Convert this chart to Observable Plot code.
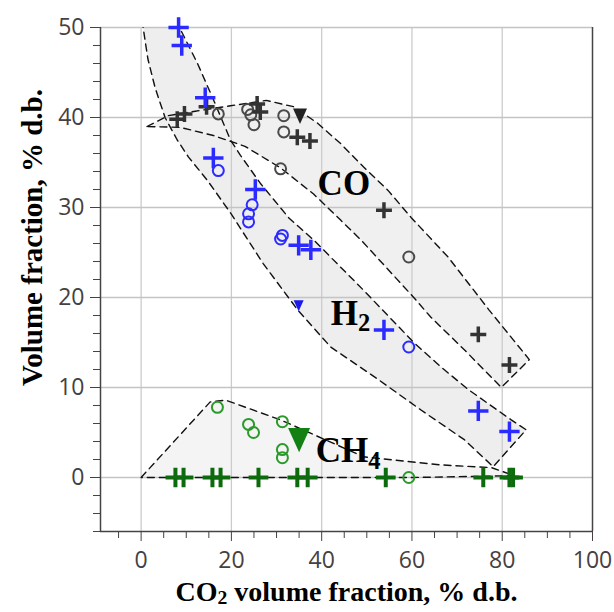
<!DOCTYPE html>
<html>
<head>
<meta charset="utf-8">
<script src="https://cdn.jsdelivr.net/npm/d3@7"></script>
<script src="https://cdn.jsdelivr.net/npm/@observablehq/plot@0.6"></script>
<style>
  html, body { margin: 0; padding: 0; background: #fff; }
  #chart { width: 614px; height: 612px; }
</style>
</head>
<body>
<div id="chart"></div>
<script>
// ---- Data ----
// H2 (blue)
const h2PlusX = [8.3, 9.0, 14.2, 16.0, 25.3, 34.9, 37.6, 53.8, 74.7, 81.6];
const h2PlusY = [50.0, 48.0, 42.2, 35.5, 32.0, 25.8, 25.3, 16.4, 7.4, 5.1];
const h2CircX = [17.1, 24.6, 23.8, 23.8, 31.3, 30.9, 59.3];
const h2CircY = [34.1, 30.3, 29.3, 28.4, 26.9, 26.5, 14.5];
const h2TriX = [34.9];
const h2TriY = [19.2];
// CO (dark grey)
const coPlusX = [8.0, 9.6, 14.5, 25.7, 26.4, 34.6, 37.4, 53.8, 74.7, 81.6];
const coPlusY = [39.8, 40.4, 41.2, 41.5, 40.6, 37.8, 37.4, 29.7, 15.9, 12.5];
const coCircX = [17.1, 23.6, 24.3, 25.0, 31.6, 31.6, 30.9, 59.3];
const coCircY = [40.4, 40.9, 40.3, 39.2, 40.2, 38.4, 34.3, 24.5];
const coTriX = [35.2];
const coTriY = [40.3];
// CH4 (green)
const ch4PlusX = [7.6, 9.4, 15.8, 17.6, 26.0, 34.6, 36.9, 54.2, 75.8, 81.6, 82.4];
const ch4PlusY = [0, 0, 0, 0, 0, 0, 0, 0, 0, 0, 0];
const ch4CircX = [16.9, 23.8, 24.9, 31.3, 31.3, 31.3, 59.3];
const ch4CircY = [7.8, 5.9, 5.0, 6.2, 3.1, 2.2, 0.0];
const ch4TriX = [35.0];
const ch4TriY = [4.4];

// Envelopes (dashed regions)
const h2EnvX = [0.2, 1.5, 3.1, 5.3, 8.0, 10.5, 14.7, 19.8, 27.0, 34.7, 42.0, 52.5, 62.0, 71.6, 78.0, 85.3, 82.0, 72.4, 66.4, 60.4, 49.3, 38.2, 32.8, 26.4, 22.0, 19.8, 16.0, 12.5, 9.0, 7.0];
const h2EnvY = [50.8, 46.5, 43.3, 40.0, 37.5, 35.6, 33.0, 29.4, 23.8, 18.6, 14.5, 10.9, 7.5, 4.2, 1.2, 5.3, 6.4, 9.8, 12.3, 15.0, 20.8, 26.4, 28.8, 32.7, 35.8, 37.5, 42.0, 46.0, 49.5, 50.8];
const coEnvX = [1.3, 6.0, 12.0, 19.8, 27.7, 33.8, 39.0, 44.2, 49.3, 54.7, 59.8, 68.0, 77.1, 86.0, 79.8, 71.6, 64.2, 60.4, 48.7, 44.2, 38.2, 30.9, 23.0, 16.0, 8.7];
const coEnvY = [39.0, 40.2, 40.7, 41.3, 41.9, 41.2, 39.4, 37.1, 34.5, 31.9, 28.9, 24.5, 18.6, 13.1, 10.0, 14.2, 17.8, 20.0, 26.4, 28.6, 31.5, 34.4, 36.8, 38.0, 38.9];
const ch4EnvX = [0, 15.3, 18.7, 30.9, 49.3, 66.4, 77.6, 82.7, 60.0, 30.0];
const ch4EnvY = [0, 8.4, 8.6, 6.4, 2.3, 1.4, 1.1, 0.2, 0, 0];

// Axis ticks
const xMajor = [0, 20, 40, 60, 80, 100];
const xMinor = [-5, 5, 10, 15, 25, 30, 35, 45, 50, 55, 65, 70, 75, 85, 90, 95];
const yMajor = [0, 10, 20, 30, 40, 50];
const yMinor = [-6, -4, -2, 2, 4, 6, 8, 12, 14, 16, 18, 22, 24, 26, 28, 32, 34, 36, 38, 42, 44, 46, 48];
const xGrid = [0, 20, 40, 60, 80];

// Labels
const labelText = ["CO", "H₂", "CH₄"];
const labelX = [39.1, 42.0, 38.7];
const labelY = [31.4, 17.0, 1.7];
const xTitle = "CO₂ volume fraction, % d.b.";
const yTitle = "Volume fraction, % d.b.";

// ---- Build tables ----
const pts = (xs, ys) => xs.map((x, i) => ({x, y: ys[i]}));
const labels = labelText.map((t, i) => ({t, x: labelX[i], y: labelY[i]}));

// Down-pointing triangle symbol
const triDown = {
  draw(ctx, size) {
    const r = Math.sqrt(size / Math.PI);
    ctx.moveTo(-r, -r * 0.9);
    ctx.lineTo(r, -r * 0.9);
    ctx.lineTo(0, r * 1.3);
    ctx.closePath();
  }
};

const BLUE = "#2b2bff";
const DARK = "#333333";
const GREEN_P = "#0d6b0d";
const GREEN_C = "#2a9a2a";
const serif = "'Liberation Serif', 'Times New Roman', serif";
const sans = "'Open Sans', 'Noto Sans', sans-serif";
const dash = "7,5";

const chart = Plot.plot({
  width: 614,
  height: 612,
  marginLeft: 100,
  marginRight: 22,
  marginTop: 27,
  marginBottom: 81,
  x: {domain: [-9, 100], label: null},
  y: {domain: [-6, 50], label: null},
  marks: [
    // envelope fills
    Plot.line(pts(h2EnvX, h2EnvY), {x: "x", y: "y", curve: "linear-closed", fill: "#eeeeee", stroke: "none", clip: true}),
    Plot.line(pts(coEnvX, coEnvY), {x: "x", y: "y", curve: "linear-closed", fill: "#f0f0f0", stroke: "none", clip: true}),
    Plot.line(pts(ch4EnvX, ch4EnvY), {x: "x", y: "y", curve: "linear-closed", fill: "#f4f4f4", stroke: "none", clip: true}),
    // grid
    Plot.gridX(xGrid, {stroke: "#cccccc", strokeOpacity: 1, strokeWidth: 1.3}),
    Plot.gridY(yMajor, {stroke: "#c4c4c4", strokeOpacity: 1, strokeWidth: 1.3}),
    // frame (left, right, bottom)
    Plot.ruleX([-9, 100], {stroke: "#444", strokeWidth: 1.5}),
    Plot.ruleY([-6], {stroke: "#444", strokeWidth: 1.5}),
    // axes
    Plot.axisX(xMajor, {tickSize: 10, tickPadding: 10, fontSize: 23, fontFamily: sans, color: "#474040", label: null}),
    Plot.axisX(xMinor, {tickSize: 7, tickFormat: () => "", color: "#444", label: null}),
    Plot.axisY(yMajor, {tickSize: 10, tickPadding: 6, fontSize: 23, fontFamily: sans, color: "#474040", label: null}),
    Plot.axisY(yMinor, {tickSize: 7, tickFormat: () => "", color: "#444", label: null}),
    // envelope outlines
    Plot.line(pts(h2EnvX, h2EnvY), {x: "x", y: "y", curve: "linear-closed", stroke: "#111", strokeWidth: 1.4, strokeDasharray: dash, clip: true}),
    Plot.line(pts(coEnvX, coEnvY), {x: "x", y: "y", curve: "linear-closed", stroke: "#111", strokeWidth: 1.4, strokeDasharray: dash, clip: true}),
    Plot.line(pts(ch4EnvX, ch4EnvY), {x: "x", y: "y", curve: "linear-closed", stroke: "#111", strokeWidth: 1.4, strokeDasharray: dash, clip: true}),
    // CO points
    Plot.dot(pts(coCircX, coCircY), {x: "x", y: "y", symbol: "circle", r: 5.5, stroke: "#4a4a4a", strokeWidth: 2, fill: "none"}),
    Plot.dot(pts(coPlusX, coPlusY), {x: "x", y: "y", symbol: "plus", r: 5.2, stroke: DARK, strokeWidth: 3.5}),
    Plot.dot(pts(coTriX, coTriY), {x: "x", y: "y", symbol: triDown, r: 7, fill: "#222", stroke: "none"}),
    // H2 points
    Plot.dot(pts(h2CircX, h2CircY), {x: "x", y: "y", symbol: "circle", r: 5.5, stroke: BLUE, strokeWidth: 2, fill: "none"}),
    Plot.dot(pts(h2PlusX, h2PlusY), {x: "x", y: "y", symbol: "plus", r: 6.6, stroke: BLUE, strokeWidth: 3.5}),
    Plot.dot(pts(h2TriX, h2TriY), {x: "x", y: "y", symbol: triDown, r: 5, fill: "#1a1aee", stroke: "none"}),
    // CH4 points
    Plot.dot(pts(ch4CircX, ch4CircY), {x: "x", y: "y", symbol: "circle", r: 5.5, stroke: GREEN_C, strokeWidth: 2, fill: "none"}),
    Plot.dot(pts(ch4PlusX, ch4PlusY), {x: "x", y: "y", symbol: "plus", r: 6.4, stroke: GREEN_P, strokeWidth: 4}),
    Plot.dot(pts(ch4TriX, ch4TriY), {x: "x", y: "y", symbol: triDown, r: 11, fill: "#138013", stroke: "none"}),
    // region labels
    Plot.text(labels, {x: "x", y: "y", text: "t", textAnchor: "start", lineAnchor: "bottom", fontFamily: serif, fontWeight: "bold", fontSize: 35, fill: "#000"}),
    // axis titles
    Plot.text([xTitle], {text: d => d, frameAnchor: "bottom", textAnchor: "middle", dy: 69, fontFamily: serif, fontWeight: "bold", fontSize: 28, fill: "#000"}),
    Plot.text([yTitle], {text: d => d, frameAnchor: "left", textAnchor: "middle", lineAnchor: "middle", rotate: -90, dx: -68, dy: -42, fontFamily: serif, fontWeight: "bold", fontSize: 29, fill: "#000"})
  ]
});

// Drop the empty labels of the minor-tick axes (ticks only)
d3.select(chart).selectAll("text").filter(function () { return this.textContent === ""; }).remove();

// Render subscripts as real lowered digits (no empty helper spans)
const subMap = {"₂": "2", "₄": "4"};
d3.select(chart).selectAll("text").each(function () {
  const s = this.textContent;
  if (!/[₂₄]/.test(s)) return;
  const el = d3.select(this);
  const shift = s.length > 5 ? 0.2 : 0.28;
  el.text(null);
  // split into runs of normal / subscript characters
  const runs = [];
  for (const ch of s) {
    const sub = !!subMap[ch];
    const c = sub ? subMap[ch] : ch;
    if (runs.length && runs[runs.length - 1].sub === sub) runs[runs.length - 1].t += c;
    else runs.push({sub, t: c});
  }
  let lowered = false;
  for (const r of runs) {
    const ts = el.append("tspan").text(r.t);
    if (r.sub) { ts.attr("font-size", "70%").attr("dy", shift + "em"); lowered = true; }
    else if (lowered) { ts.attr("dy", (-shift * 0.7) + "em"); lowered = false; }
  }
});

document.getElementById("chart").appendChild(chart);
</script>
</body>
</html>
